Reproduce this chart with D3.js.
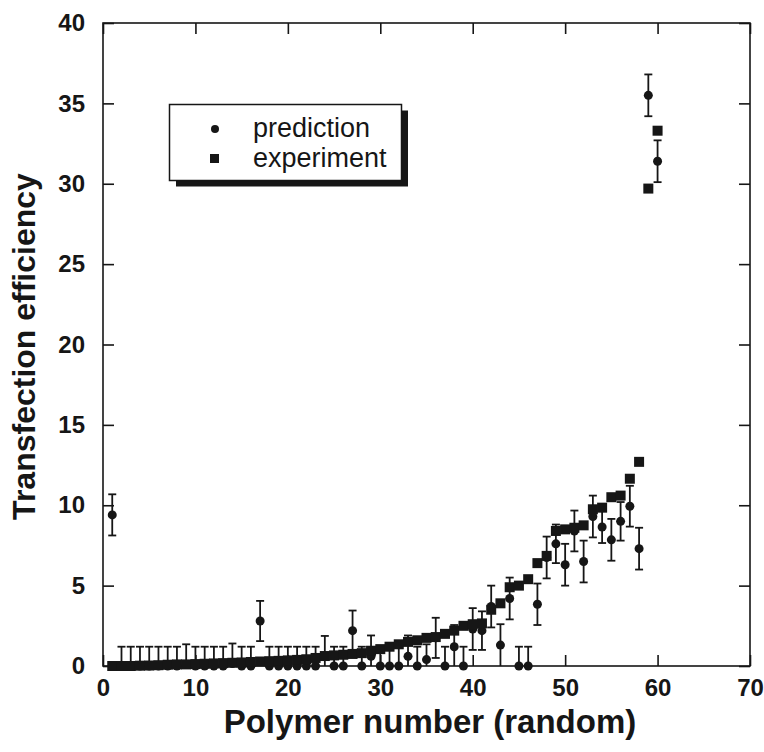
<!DOCTYPE html>
<html>
<head>
<meta charset="utf-8">
<script src="https://cdn.jsdelivr.net/npm/d3@7"></script>
<style>
  html, body { margin: 0; padding: 0; background: #fff; }
  svg { display: block; }
</style>
</head>
<body>
<svg id="chart" width="764" height="752"></svg>
<script>
// ---- data ----
const polymers = d3.range(1, 61);
const experiment = [
  0.0, 0.0, 0.0, 0.02, 0.03, 0.05, 0.08, 0.1, 0.1, 0.12,
  0.14, 0.16, 0.18, 0.2, 0.22, 0.25, 0.28, 0.3, 0.32, 0.35,
  0.38, 0.42, 0.5, 0.62, 0.66, 0.7, 0.75, 0.8, 0.95, 1.05,
  1.2, 1.35, 1.5, 1.6, 1.75, 1.8, 2.0, 2.2, 2.5, 2.6,
  2.65, 3.5, 3.9, 4.9, 5.0, 5.4, 6.4, 6.85, 8.4, 8.5,
  8.6, 8.75, 9.75, 9.85, 10.5, 10.6, 11.65, 12.7, 29.7, 33.3
];
const prediction = [
  9.4, 0, 0, 0, 0, 0, 0, 0, 0.1, 0,
  0, 0, 0, 0.15, 0, 0, 2.8, 0, 0, 0,
  0, 0, 0, 0.6, 0, 0, 2.2, 0, 0.6, 0,
  0, 0, 0.6, 0, 0.4, 1.75, 0, 1.2, 0, 2.3,
  2.2, 3.7, 1.3, 4.2, 0, 0, 3.84, 6.75, 7.6, 6.3,
  8.4, 6.5, 9.3, 8.65, 7.85, 9.0, 9.94, 7.3, 35.5, 31.4
];
const predictionError = [
  1.28, 1.2, 1.2, 1.2, 1.2, 1.2, 1.2, 1.2, 1.25, 1.2,
  1.2, 1.2, 1.2, 1.25, 1.2, 1.2, 1.25, 1.2, 1.2, 1.2,
  1.2, 1.2, 1.2, 1.27, 1.2, 1.2, 1.25, 1.2, 1.3, 1.2,
  1.2, 1.2, 1.3, 1.2, 0.95, 1.25, 1.2, 1.35, 1.2, 1.3,
  1.2, 1.3, 1.3, 1.3, 1.2, 1.2, 1.29, 1.3, 1.2, 1.3,
  1.27, 1.3, 1.3, 1.0, 1.3, 1.2, 1.27, 1.3, 1.3, 1.3
];
const xTicks = [0, 10, 20, 30, 40, 50, 60, 70];
const yTicks = [0, 5, 10, 15, 20, 25, 30, 35, 40];
const legendLabels = ["prediction", "experiment"];
const xTitle = "Polymer number (random)";
const yTitle = "Transfection efficiency";

// ---- layout ----
const L = 103, R = 750, T = 23, B = 666;
const ink = "#161616";
const svg = d3.select("#chart");
svg.append("rect").attr("width", 764).attr("height", 752).attr("fill", "#fff");

const x = d3.scaleLinear().domain([0, 70]).range([L, R]);
const y = d3.scaleLinear().domain([0, 40]).range([B, T]).clamp(true);

const font = "'Liberation Sans', Arial, Helvetica, sans-serif";

// axes
const tickLen = 11;
const gB = svg.append("g").attr("transform", `translate(0,${B})`)
  .call(d3.axisBottom(x).tickValues(xTicks).tickSize(-tickLen).tickPadding(13).tickFormat(d3.format("d")));
const gL = svg.append("g").attr("transform", `translate(${L},0)`)
  .call(d3.axisLeft(y).tickValues(yTicks).tickSize(-tickLen).tickPadding(18).tickFormat(d3.format("d")));
const gT = svg.append("g").attr("transform", `translate(0,${T})`)
  .call(d3.axisTop(x).tickValues(xTicks).tickSize(-tickLen).tickFormat(""));
const gR = svg.append("g").attr("transform", `translate(${R},0)`)
  .call(d3.axisRight(y).tickValues(yTicks).tickSize(-tickLen).tickFormat(""));
[gB, gL, gT, gR].forEach(g => {
  g.select(".domain").remove();
  g.selectAll(".tick line").attr("stroke", ink).attr("stroke-width", 1.6);
  g.selectAll(".tick text").attr("fill", ink).attr("font-family", font)
    .attr("font-weight", "bold").attr("font-size", 24);
});

// frame
svg.append("rect").attr("x", L).attr("y", T).attr("width", R - L).attr("height", B - T)
  .attr("fill", "none").attr("stroke", ink).attr("stroke-width", 1.6);

// data table
const rows = polymers.map((n, i) => ({
  n, exp: experiment[i], pred: prediction[i], err: predictionError[i]
}));

// error bars
const eb = svg.append("g").attr("stroke", ink).attr("stroke-width", 1.8);
const capW = 4;
rows.forEach(d => {
  const cx = x(d.n);
  const y1 = y(d.pred + d.err), y0 = y(d.pred - d.err);
  eb.append("line").attr("x1", cx).attr("x2", cx).attr("y1", y1).attr("y2", y0);
  eb.append("line").attr("x1", cx - capW).attr("x2", cx + capW).attr("y1", y1).attr("y2", y1);
  if (d.pred - d.err > 0) {
    eb.append("line").attr("x1", cx - capW).attr("x2", cx + capW).attr("y1", y0).attr("y2", y0);
  }
});

// prediction circles
svg.append("g").selectAll("circle").data(rows).join("circle")
  .attr("cx", d => x(d.n)).attr("cy", d => y(d.pred)).attr("r", 4.5).attr("fill", ink);

// experiment squares
const sq = 10;
svg.append("g").selectAll("rect").data(rows).join("rect")
  .attr("x", d => x(d.n) - sq / 2).attr("y", d => y(d.exp) - sq / 2)
  .attr("width", sq).attr("height", sq).attr("fill", ink);

// legend
const lg = svg.append("g");
lg.append("rect").attr("x", 176).attr("y", 110.5).attr("width", 232).attr("height", 76).attr("fill", ink);
lg.append("rect").attr("x", 169.5).attr("y", 104.5).attr("width", 232).attr("height", 76)
  .attr("fill", "#fff").attr("stroke", ink).attr("stroke-width", 1.5);
lg.append("circle").attr("cx", 215).attr("cy", 129).attr("r", 4).attr("fill", ink);
lg.append("rect").attr("x", 210).attr("y", 154).attr("width", 9).attr("height", 9).attr("fill", ink);
legendLabels.forEach((t, i) => {
  lg.append("text").attr("x", 253).attr("y", 137 + i * 29.5).text(t)
    .attr("font-family", font).attr("font-size", 27).attr("fill", ink);
});

// titles
svg.append("text").attr("x", 430).attr("y", 733).attr("text-anchor", "middle")
  .attr("font-family", font).attr("font-weight", "bold").attr("font-size", 33).attr("fill", ink)
  .text(xTitle);
svg.append("text").attr("transform", `translate(35,${(T + B) / 2 + 2}) rotate(-90)`)
  .attr("text-anchor", "middle")
  .attr("font-family", font).attr("font-weight", "bold").attr("font-size", 32).attr("fill", ink)
  .text(yTitle);
</script>
</body>
</html>
